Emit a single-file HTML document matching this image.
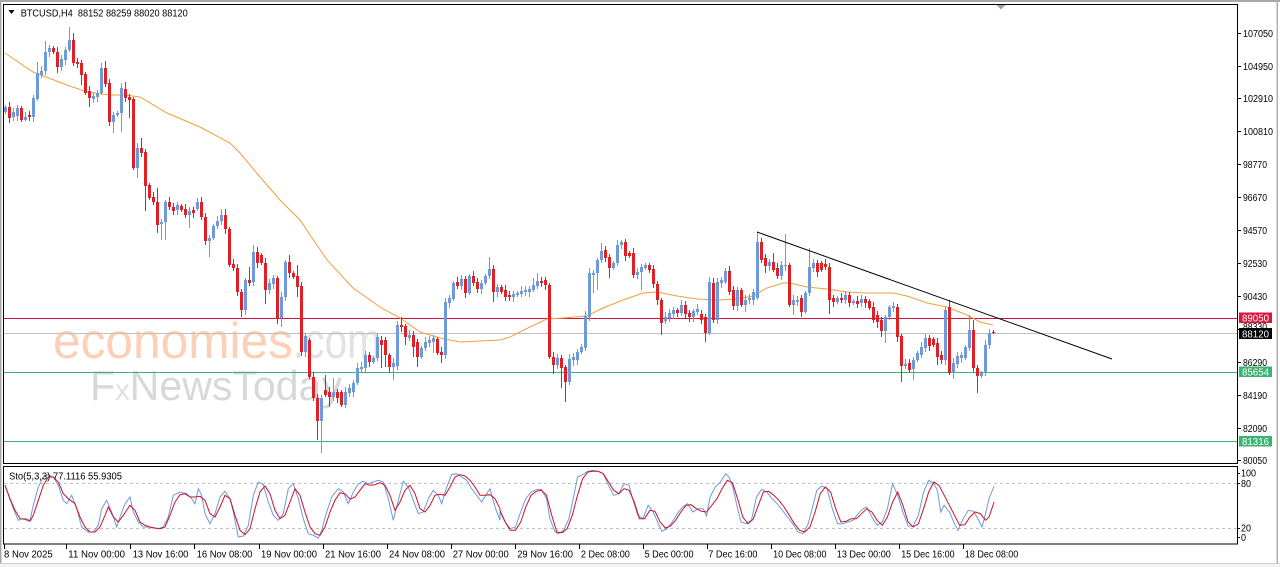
<!DOCTYPE html>
<html><head><meta charset="utf-8">
<style>
html,body{margin:0;padding:0;background:#fff;overflow:hidden;}
svg{display:block;font-family:"Liberation Sans",Arial,sans-serif;}
text{white-space:pre;}
</style></head><body>
<svg id="svg" width="1280" height="567" viewBox="0 0 1280 567" xmlns="http://www.w3.org/2000/svg">
<rect width="1280" height="567" fill="#ffffff"/>
<!-- outer window frame -->
<rect x="0" y="0" width="1280" height="2" fill="#a8a8a8"/>
<rect x="0" y="0" width="1.5" height="563" fill="#a8a8a8"/>
<rect x="1276.5" y="0" width="1.5" height="563" fill="#b0b0b0"/>
<rect x="0" y="563" width="1280" height="1" fill="#d0d0d0"/>
<rect x="0" y="564" width="1280" height="3" fill="#f2f2f2"/>
<polygon points="996.5,5 1005.5,5 1001,9.5" fill="#a0a0a0"/>

<!-- watermark -->
<g>
<text x="53" y="358" font-size="50" fill="#fbd0b6" textLength="240" lengthAdjust="spacingAndGlyphs">economies</text>
<text x="293" y="358" font-size="50" fill="#e2e2e2" textLength="88" lengthAdjust="spacingAndGlyphs">.com</text>
<text x="90" y="400" font-size="42" fill="#d8d8d8" textLength="252" lengthAdjust="spacingAndGlyphs">F<tspan font-size="30" fill="#e0e0e0">x</tspan>NewsToday</text>
</g>

<!-- horizontal level lines -->
<g shape-rendering="crispEdges">
<line x1="4" y1="318.5" x2="1237" y2="318.5" stroke="#c8163c" stroke-width="1"/>
<line x1="4" y1="333.5" x2="1237" y2="333.5" stroke="#c0c0c0" stroke-width="1"/>
<line x1="4" y1="372.5" x2="1237" y2="372.5" stroke="#3cb371" stroke-width="1"/>
<line x1="4" y1="441.5" x2="1237" y2="441.5" stroke="#3cb371" stroke-width="1"/>
</g>

<!-- moving average -->
<polyline fill="none" stroke="#f0a040" stroke-width="1" points="5,53 33,72 67,85 87,92 110,95 125,95 140,97 167,113 200,127 230,143 240,153 260,177 280,200 300,220 327,260 353,288 380,307 400,318 420,332 440,338 460,342 480,341 500,340 510,337 530,327 547,319 563,318 587,316 603,308 623,300 643,293 657,292 677,296 697,299 717,300 737,299 753,296 767,288 783,283 790,283 807,287 827,289 847,292 867,293 893,293 907,296 927,303 947,307 967,315 980,322 993,325"/>

<!-- candles -->
<g id="cd" shape-rendering="crispEdges"></g>

<!-- trend line -->
<line x1="757" y1="232" x2="1112" y2="359" stroke="#000" stroke-width="1"/>

<!-- stochastic levels -->
<g shape-rendering="crispEdges">
<line x1="4" y1="483.5" x2="1237" y2="483.5" stroke="#c0c0c0" stroke-dasharray="3,3"/>
<line x1="4" y1="528.5" x2="1237" y2="528.5" stroke="#c0c0c0" stroke-dasharray="3,3"/>
</g>
<g id="st"></g>

<!-- panel borders -->
<g shape-rendering="crispEdges" fill="none" stroke="#000" stroke-width="1">
<rect x="3.5" y="4.5" width="1234" height="459"/>
<rect x="3.5" y="466.5" width="1234" height="77.5"/>
</g>

<!-- header -->
<polygon points="8.5,10 14.5,10 11.5,14" fill="#000"/>
<text x="20.7" y="16.3" font-size="10" fill="#000" textLength="167" lengthAdjust="spacingAndGlyphs">BTCUSD,H4  88152 88259 88020 88120</text>
<text x="9" y="479.5" font-size="10" fill="#000" textLength="113" lengthAdjust="spacingAndGlyphs">Sto(5,3,3) 77.1116 55.9305</text>

<!-- price axis -->
<g shape-rendering="crispEdges" stroke="#000" stroke-width="1">
<line x1="1237" y1="33.5" x2="1241" y2="33.5"/><line x1="1237" y1="66.5" x2="1241" y2="66.5"/>
<line x1="1237" y1="98.5" x2="1241" y2="98.5"/><line x1="1237" y1="131.5" x2="1241" y2="131.5"/>
<line x1="1237" y1="164.5" x2="1241" y2="164.5"/><line x1="1237" y1="197.5" x2="1241" y2="197.5"/>
<line x1="1237" y1="230.5" x2="1241" y2="230.5"/><line x1="1237" y1="263.5" x2="1241" y2="263.5"/>
<line x1="1237" y1="296.5" x2="1241" y2="296.5"/><line x1="1237" y1="329.5" x2="1241" y2="329.5"/>
<line x1="1237" y1="362.5" x2="1241" y2="362.5"/><line x1="1237" y1="395.5" x2="1241" y2="395.5"/>
<line x1="1237" y1="428.5" x2="1241" y2="428.5"/><line x1="1237" y1="460.5" x2="1241" y2="460.5"/>
<line x1="1237" y1="473.5" x2="1240" y2="473.5"/><line x1="1237" y1="483.5" x2="1240" y2="483.5"/>
<line x1="1237" y1="528.5" x2="1240" y2="528.5"/><line x1="1237" y1="537.5" x2="1240" y2="537.5"/>
</g>
<g font-size="10" fill="#000">
<text x="1243" y="37" textLength="30" lengthAdjust="spacingAndGlyphs">107050</text>
<text x="1243" y="70" textLength="30" lengthAdjust="spacingAndGlyphs">104950</text>
<text x="1243" y="102" textLength="30" lengthAdjust="spacingAndGlyphs">102910</text>
<text x="1243" y="135" textLength="30" lengthAdjust="spacingAndGlyphs">100810</text>
<text x="1243" y="168" textLength="24" lengthAdjust="spacingAndGlyphs">98770</text>
<text x="1243" y="201" textLength="24" lengthAdjust="spacingAndGlyphs">96670</text>
<text x="1243" y="234" textLength="24" lengthAdjust="spacingAndGlyphs">94570</text>
<text x="1243" y="267" textLength="24" lengthAdjust="spacingAndGlyphs">92530</text>
<text x="1243" y="300" textLength="24" lengthAdjust="spacingAndGlyphs">90430</text>
<text x="1243" y="330" textLength="24" lengthAdjust="spacingAndGlyphs">88330</text>
<text x="1243" y="366" textLength="24" lengthAdjust="spacingAndGlyphs">86290</text>
<text x="1243" y="399" textLength="24" lengthAdjust="spacingAndGlyphs">84190</text>
<text x="1243" y="432" textLength="24" lengthAdjust="spacingAndGlyphs">82090</text>
<text x="1243" y="464" textLength="24" lengthAdjust="spacingAndGlyphs">80050</text>
<text x="1241" y="476.5" textLength="15" lengthAdjust="spacingAndGlyphs">100</text>
<text x="1241" y="487" textLength="10" lengthAdjust="spacingAndGlyphs">80</text>
<text x="1241" y="531.5" textLength="10" lengthAdjust="spacingAndGlyphs">20</text>
<text x="1241" y="541" textLength="5" lengthAdjust="spacingAndGlyphs">0</text>
</g>
<!-- price tags -->
<g shape-rendering="crispEdges">
<rect x="1239" y="312.5" width="33" height="10.5" fill="#dc143c"/>
<rect x="1239" y="328" width="33" height="11" fill="#000"/>
<rect x="1239" y="366.5" width="33" height="10.5" fill="#3cb371"/>
<rect x="1239" y="436" width="33" height="10.5" fill="#3cb371"/>
</g>
<g font-size="10" fill="#fff">
<text x="1242" y="321.5" textLength="27" lengthAdjust="spacingAndGlyphs">89050</text>
<text x="1242" y="337.5" textLength="27" lengthAdjust="spacingAndGlyphs">88120</text>
<text x="1242" y="375.5" textLength="27" lengthAdjust="spacingAndGlyphs">85654</text>
<text x="1242" y="445" textLength="27" lengthAdjust="spacingAndGlyphs">81316</text>
</g>

<!-- time axis -->
<g shape-rendering="crispEdges" stroke="#000" stroke-width="1">
<line x1="4.5" y1="544" x2="4.5" y2="549"/>
<line x1="66.5" y1="544" x2="66.5" y2="549"/>
<line x1="130.5" y1="544" x2="130.5" y2="549"/>
<line x1="194.5" y1="544" x2="194.5" y2="549"/>
<line x1="259.5" y1="544" x2="259.5" y2="549"/>
<line x1="323.5" y1="544" x2="323.5" y2="549"/>
<line x1="387.5" y1="544" x2="387.5" y2="549"/>
<line x1="451.5" y1="544" x2="451.5" y2="549"/>
<line x1="515.5" y1="544" x2="515.5" y2="549"/>
<line x1="579.5" y1="544" x2="579.5" y2="549"/>
<line x1="643.5" y1="544" x2="643.5" y2="549"/>
<line x1="707.5" y1="544" x2="707.5" y2="549"/>
<line x1="771.5" y1="544" x2="771.5" y2="549"/>
<line x1="835.5" y1="544" x2="835.5" y2="549"/>
<line x1="899.5" y1="544" x2="899.5" y2="549"/>
<line x1="963.5" y1="544" x2="963.5" y2="549"/>
</g>
<g font-size="10" fill="#000">
<text x="4" y="557.5" textLength="48.7" lengthAdjust="spacingAndGlyphs">8 Nov 2025</text>
<text x="68.3" y="557.5" textLength="56.7" lengthAdjust="spacingAndGlyphs">11 Nov 00:00</text>
<text x="132.7" y="557.5" textLength="55.7" lengthAdjust="spacingAndGlyphs">13 Nov 16:00</text>
<text x="196.7" y="557.5" textLength="55.7" lengthAdjust="spacingAndGlyphs">16 Nov 08:00</text>
<text x="261" y="557.5" textLength="56" lengthAdjust="spacingAndGlyphs">19 Nov 00:00</text>
<text x="325" y="557.5" textLength="56" lengthAdjust="spacingAndGlyphs">21 Nov 16:00</text>
<text x="389" y="557.5" textLength="56" lengthAdjust="spacingAndGlyphs">24 Nov 08:00</text>
<text x="452.7" y="557.5" textLength="56" lengthAdjust="spacingAndGlyphs">27 Nov 00:00</text>
<text x="517.2" y="557.5" textLength="55.8" lengthAdjust="spacingAndGlyphs">29 Nov 16:00</text>
<text x="580.9" y="557.5" textLength="48.9" lengthAdjust="spacingAndGlyphs">2 Dec 08:00</text>
<text x="644.6" y="557.5" textLength="48.9" lengthAdjust="spacingAndGlyphs">5 Dec 00:00</text>
<text x="708.3" y="557.5" textLength="49.2" lengthAdjust="spacingAndGlyphs">7 Dec 16:00</text>
<text x="773.1" y="557.5" textLength="53.4" lengthAdjust="spacingAndGlyphs">10 Dec 08:00</text>
<text x="836.8" y="557.5" textLength="54" lengthAdjust="spacingAndGlyphs">13 Dec 00:00</text>
<text x="901.2" y="557.5" textLength="53.4" lengthAdjust="spacingAndGlyphs">15 Dec 16:00</text>
<text x="964.9" y="557.5" textLength="53.4" lengthAdjust="spacingAndGlyphs">18 Dec 08:00</text>
</g>
</svg>
<script>
(function(){
var D=[
[112,107,0,0],[107,118,0,123],[117,112,0,0],[116,108,0,0],[108,120,0,0],[120,117,0,121],[115,117,0,0],[117,98,0,0],[99,73,62,0],[75,71,0,0],
[71,52,41,0],[52,48,0,0],[48,52,0,0],[52,67,0,73],[67,59,0,0],[60,50,0,0],[50,40,27,0],[40,63,33,0],[62,64,0,0],[63,75,0,85],
[74,93,0,0],[91,98,0,107],[99,96,0,0],[97,93,0,0],[93,68,63,0],[68,84,61,0],[83,122,0,0],[122,115,0,133],[115,113,0,0],[113,88,0,132],
[89,98,82,0],[97,100,0,118],[99,168,0,0],[168,148,0,178],[148,153,138,0],[152,186,0,211],[185,198,0,0],[197,202,0,0],[202,225,188,233],[224,222,0,240],
[222,202,0,240],[202,207],[207,211],[210,205],[206,210],[209,215],[215,211,0,228],[210,213],[209,202,198,0],[202,217],
[217,241],[241,238,0,257],[238,226],[226,221],[221,215,209,0],[215,229,209,0],[229,265],[264,268],[268,292],[292,310,0,317],
[310,280,0,315],[280,283,267,0],[282,252,245,0],[252,263,247,0],[255,263],[263,290,0,304],[290,283],[284,278],[278,318,0,324],[318,297,0,327],
[297,262,260,0],[262,273,255,0],[273,277],[276,287,265,297],[286,352],[352,336],[340,377],[377,398,372,0],[398,421,0,440],[421,398,0,453],
[390,395,375,0],[392,397,0,407],[397,392,378,0],[392,398],[392,405],[405,392],[393,388],[392,383],[383,368,363,0],[369,367],
[368,355],[355,362],[362,358],[358,337,333,0],[340,345,0,368],[340,355,0,367],[355,367,0,373],[367,363,0,380],[366,325],[325,327,317,0],
[326,337,0,345],[338,335],[335,347,0,357],[342,357,0,367],[357,348],[348,342],[343,340],[342,338,0,353],[339,353],[352,355,0,363],
[355,302],[303,298],[299,283],[282,286],[286,279],[279,293],[293,276],[276,283],[282,289],[289,283],
[283,276],[276,269,257,0],[269,292,0,302],[292,287],[287,292],[290,297,0,301],[295,297],[297,294],[295,293],[294,291],
[292,290],[292,289],[290,285,278,0],[286,281,273,0],[281,283],[280,285],[285,357],[357,365,0,374],[365,358],[358,368,0,388],
[367,382,0,402],[382,359],[360,357,0,366],[360,352],[352,347,344,0],[348,316],[317,273,268,0],[275,273,0,293],[273,260,0,290],[260,251,243,0],
[250,258],[257,268,0,278],[268,263],[263,245,240,0],[245,242,240,0],[242,256],[253,256],[253,275],[275,272],[272,267,0,290],
[268,265],[265,270,263,0],[269,284],[284,300],[300,323,0,335],[321,317],[318,313],[314,310],[310,313,0,317],[313,305,300,0],
[305,314],[313,317],[317,311,0,322],[312,309],[314,320],[317,333,0,342],[333,282,277,0],[283,320],[320,282],[283,280],
[282,271,268,0],[271,292],[290,306],[306,290],[290,305],[305,300,0,312],[300,298],[300,292],[298,242,232,0],[242,260,238,0],
[258,266,0,273],[266,262],[262,270,253,0],[268,276],[276,265],[266,265,234,0],[265,305],[305,300,0,315],[302,300],[298,312,0,317],
[312,293],[293,267,248,0],[268,263],[263,272],[263,270],[264,267],[267,300,0,314],[298,302,0,307],[302,298],[298,300],
[300,295],[295,303,0,307],[303,301],[301,304,0,308],[303,299],[299,303],[301,308],[307,320],[315,322,0,328],[320,331,0,337],
[331,317,0,343],[317,307,305,0],[308,306],[307,337],[336,366,0,382],[366,364],[363,370,0,373],[369,360,0,380],[360,353],[355,347],
[348,338],[338,346],[339,345],[343,357,0,365],[355,360],[360,310],[307,373,300,0],[372,363,0,379],[364,356],[358,355],
[358,347],[348,330,315,0],[330,368,320,0],[368,376,0,393],[376,373],[373,345],[345,333],[332,333,330,334]
];
var rw="",rb="",bw="",bb="";
for(var i=0;i<D.length;i++){
 var d=D[i],o=d[0],c=d[1],h=d[2]||0,l=d[3]||0;
 var x=5.5+4*i;
 var t=Math.min(o,c),b=Math.max(o,c);
 if(!h)h=t-(2+(i*7)%4);
 if(!l)l=b+(2+(i*5)%4);
 if(b-t<1)b=t+1;
 var w="M"+x+" "+h+"V"+l;
 var bd="M"+x+" "+t+"V"+b;
 if(c<o){bw+=w;bb+=bd;}else{rw+=w;rb+=bd;}
}
var R="#e31e24",B="#6b9bdc";
document.getElementById("cd").innerHTML=
 '<path d="'+rw+'" stroke="'+R+'" stroke-width="1" fill="none"/>'+
 '<path d="'+rb+'" stroke="'+R+'" stroke-width="3" fill="none"/>'+
 '<path d="'+bw+'" stroke="'+B+'" stroke-width="1" fill="none"/>'+
 '<path d="'+bb+'" stroke="'+B+'" stroke-width="3" fill="none"/>';

var k8=[15,70,40,140,55,175,65,170,80,170,90,175,100,130,115,75,130,45,145,38,160,45,175,70,190,115,200,125,215,100,230,140,245,195,265,210,280,210,295,190,305,140,320,115,335,150,350,195,360,165,375,125,390,105,400,150,415,180,430,195,445,195,460,198,475,200,490,195,505,165,520,100,540,90,560,95,575,110,585,125,595,80,605,100,615,155,630,185,645,155,660,105,675,88,690,110,700,150,715,225,730,222,745,190,760,100,775,60,790,68,805,120,820,160,835,175,850,155,865,80,880,65,895,110,910,170,925,215,940,220,955,228,965,205,980,150,995,105,1015,80,1030,90,1045,125,1060,90,1075,65,1090,58,1105,65,1120,60,1135,55,1150,60,1165,110,1180,175,1195,115,1210,58,1225,75,1240,115,1255,155,1270,150,1285,110,1300,85,1315,100,1325,125,1340,75,1355,38,1370,35,1385,45,1400,55,1415,80,1430,100,1445,120,1460,95,1470,80,1485,135,1500,175];
var k9=[0,150,15,180,30,200,45,195,60,150,75,110,90,90,105,83,120,82,135,110,145,170,160,210,170,215,185,205,200,170,215,100,225,45,240,38,255,28,270,25,285,28,300,35,315,70,330,100,345,95,360,65,375,70,385,110,400,160,415,170,430,130,445,150,460,185,470,208,485,200,500,180,515,155,530,135,545,125,560,150,575,140,590,140,600,162,610,105,625,75,640,60,655,35,665,45,675,70,690,140,700,180,715,185,730,175,745,105,760,82,775,90,790,110,805,125,820,145,835,165,850,185,865,210,880,215,895,185,910,125,920,85,935,72,950,80,965,140,980,185,995,185,1010,180,1025,175,1040,155,1055,140,1065,135,1080,165,1095,190,1110,180,1125,140,1140,65,1155,100,1170,150,1185,192,1200,192,1215,160,1230,90,1245,55,1260,65,1270,85,1280,150,1290,130,1305,150,1320,185,1330,205,1345,170,1360,145,1375,148,1390,175,1400,195,1410,155,1420,110,1435,72];
var d8=[15,70,30,110,45,145,60,170,75,172,90,178,100,160,115,115,130,70,145,45,160,45,175,60,190,95,205,110,225,125,240,165,255,195,270,210,285,210,300,195,315,160,325,135,340,165,355,180,370,160,390,130,405,145,420,180,435,190,450,195,465,198,480,200,495,195,510,160,525,120,540,98,555,95,570,105,585,105,600,103,615,115,630,155,645,165,660,135,675,100,690,110,705,160,720,205,735,218,750,200,765,140,780,90,795,72,810,95,825,145,840,170,855,160,870,120,885,80,900,100,915,150,930,195,945,215,960,220,975,195,990,150,1005,115,1020,92,1035,95,1050,112,1065,105,1080,85,1095,65,1110,70,1125,68,1140,62,1155,70,1170,100,1185,145,1200,120,1215,85,1230,70,1245,95,1260,140,1275,150,1290,130,1305,100,1320,97,1335,100,1350,75,1365,45,1380,38,1395,42,1410,55,1425,75,1440,100,1455,100,1470,98,1485,110,1500,140];
var d9=[0,145,15,180,30,205,45,205,60,180,75,135,90,100,105,88,120,85,135,100,150,160,165,210,180,212,195,200,210,160,225,100,240,50,255,30,270,28,285,28,300,35,315,60,330,85,345,95,360,80,375,85,390,120,405,170,420,170,435,145,450,148,465,180,480,198,495,192,510,175,525,150,540,130,555,128,570,140,585,148,600,150,615,130,630,110,645,80,660,55,675,62,690,110,705,165,720,185,735,172,750,130,765,90,780,88,795,100,810,115,825,135,840,160,855,185,870,205,885,210,900,195,915,150,930,95,945,75,960,90,975,140,990,180,1005,178,1020,170,1035,170,1050,155,1065,140,1080,150,1095,175,1110,190,1125,165,1140,120,1155,90,1170,130,1185,180,1200,195,1215,185,1230,140,1245,90,1260,60,1275,70,1290,100,1305,130,1320,160,1335,190,1350,188,1365,165,1380,150,1395,155,1410,175,1420,165,1435,120];
function pts(a,b){
 var s=[];
 for(var i=0;i<a.length;i+=2){var x=a[i]/3;if(x<=500)s.push(x.toFixed(1)+","+(462+a[i+1]/3).toFixed(1));}
 for(var j=0;j<b.length;j+=2){s.push((500+b[j]/2.904).toFixed(1)+","+(462+b[j+1]/3).toFixed(1));}
 return s.join(" ");
}
document.getElementById("st").innerHTML=
 '<polyline fill="none" stroke="#6b9bdc" stroke-width="1" points="'+pts(k8,k9)+'"/>'+
 '<polyline fill="none" stroke="#d0102a" stroke-width="1" points="'+pts(d8,d9)+'"/>';
})();
</script>
</body></html>
